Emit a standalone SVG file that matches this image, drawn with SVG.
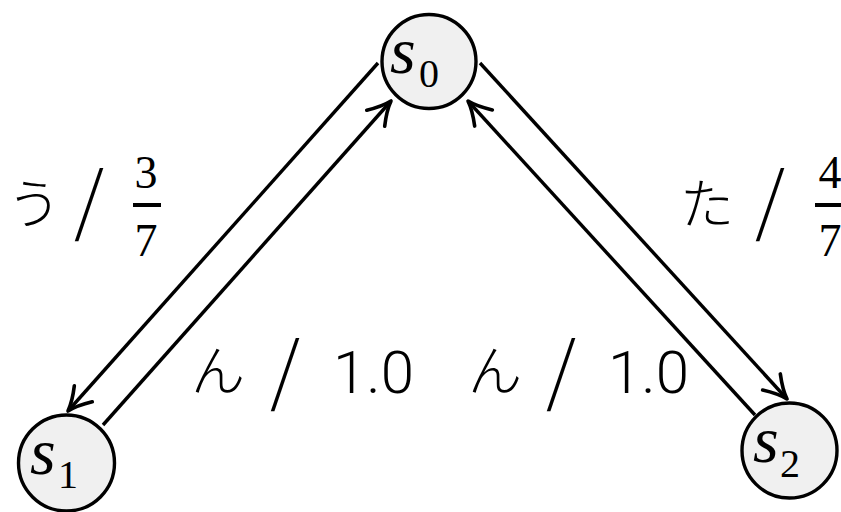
<svg xmlns="http://www.w3.org/2000/svg" width="841" height="512" viewBox="0 0 841 512">
<style>
.node{fill:#f0f0f0;stroke:#000;stroke-width:3.4}
.edge{fill:none;stroke:#000;stroke-width:3.4}
.mi{font-family:"Liberation Serif",serif;font-style:italic;font-size:66px}
.sub{font-family:"Liberation Serif",serif;font-size:40px}
.kana{font-family:"Noto Sans CJK JP",sans-serif;font-weight:300;font-size:54px}
.sl{font-family:"Noto Sans CJK JP",sans-serif;font-weight:300;font-size:76px}
.num{font-family:Roboto,"Liberation Sans",sans-serif;font-weight:300;font-size:60px}
.frac{font-family:"Liberation Serif",serif;font-size:46px;text-anchor:middle}
</style>
<defs>
<marker id="arr" markerUnits="userSpaceOnUse" orient="auto" refX="0" refY="0" markerWidth="50" markerHeight="50" viewBox="-25 -25 50 50" overflow="visible">
<path d="M -23 -12 Q -10 -3 0 0 Q -10 3 -23 12" fill="none" stroke="#000" stroke-width="3.6" stroke-linecap="round" stroke-linejoin="round"/>
</marker>
</defs>
<g id="connectors">
<line class="edge" x1="378" y1="63" x2="68" y2="411" marker-end="url(#arr)"/>
<line class="edge" x1="103" y1="425" x2="391" y2="101" marker-end="url(#arr)"/>
<line class="edge" x1="480" y1="63" x2="787" y2="399" marker-end="url(#arr)"/>
<line class="edge" x1="755" y1="415" x2="468" y2="101" marker-end="url(#arr)"/>
</g>
<g id="s0">
<circle class="node" cx="429" cy="61.5" r="47"/>
<text class="mi" x="390" y="73">s</text><text class="sub" x="419" y="87">0</text>
</g>
<g id="s1">
<circle class="node" cx="66.5" cy="463" r="48"/>
<text class="mi" x="30" y="474">s</text><text class="sub" x="58" y="488">1</text>
</g>
<g id="s2">
<circle class="node" cx="789.5" cy="450.5" r="47.5"/>
<text class="mi" x="753" y="462">s</text><text class="sub" x="780" y="477">2</text>
</g>
<g id="label-u">
<text class="kana" x="7" y="224">う</text>
<text class="sl" x="74" y="228">/</text>
<text class="frac" x="146" y="188">3</text>
<rect x="133" y="203" width="28" height="4"/>
<text class="frac" x="146" y="256">7</text>
</g>
<g id="label-ta">
<text class="kana" x="680" y="224">た</text>
<text class="sl" x="755" y="228">/</text>
<text class="frac" x="830" y="188">4</text>
<rect x="815" y="203" width="30" height="4"/>
<text class="frac" x="830" y="256">7</text>
</g>
<g id="label-n1">
<text class="kana" x="191" y="391">ん</text>
<text class="sl" x="270" y="398">/</text>
<text class="num" x="333" y="393">1.0</text>
</g>
<g id="label-n2">
<text class="kana" x="468" y="391">ん</text>
<text class="sl" x="546" y="398">/</text>
<text class="num" x="608" y="393">1.0</text>
</g>
</svg>
